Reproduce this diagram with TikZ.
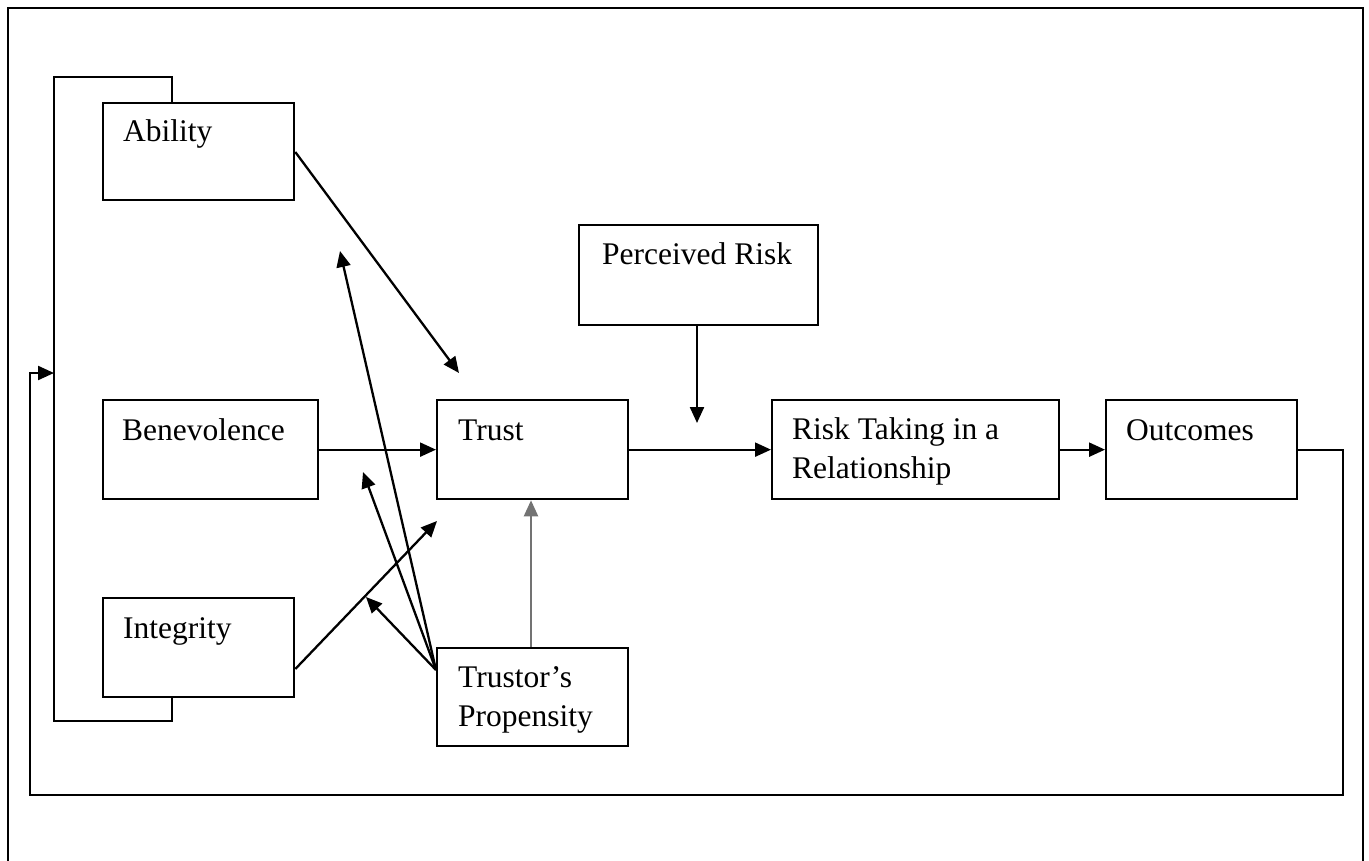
\documentclass[tikz,border=0pt]{standalone}
\usepackage{fontspec}
\setmainfont{Liberation Serif}
\usetikzlibrary{arrows.meta}

\tikzset{
  box/.style={draw, line width=2.3pt, rectangle, inner sep=0pt, anchor=north west},
  lbl/.style={anchor=base west, inner sep=0pt, align=left,
              font=\fontsize{31.5}{39}\selectfont},
  conn/.style={line width=2.3pt, -{Triangle[length=16pt,width=14pt]}},
  plain/.style={line width=2.3pt},
}

\begin{document}
\begin{tikzpicture}[x=1pt, y=-1pt]
  \useasboundingbox (0,0) rectangle (1369,861);
  \clip (0,0) rectangle (1369,861);

  % page frame, running off the lower edge
  \draw[plain] (8,875) -- (8,8) -- (1363,8) -- (1363,875);

  % boxes
  \node[box, minimum width=191pt, minimum height=97pt] (ability) at (102,102) {};
  \node[box, minimum width=215pt, minimum height=99pt] (benev)   at (102,399) {};
  \node[box, minimum width=191pt, minimum height=99pt] (integ)   at (102,597) {};
  \node[box, minimum width=191pt, minimum height=99pt] (trust)   at (436,399) {};
  \node[box, minimum width=191pt, minimum height=98pt] (prop)    at (436,647) {};
  \node[box, minimum width=239pt, minimum height=100pt] (prisk)  at (578,224) {};
  \node[box, minimum width=287pt, minimum height=99pt] (rtake)   at (771,399) {};
  \node[box, minimum width=191pt, minimum height=99pt] (outc)    at (1105,399) {};

  % box texts (two-line texts are placed by the baseline of their last line)
  \node[lbl] at ([shift={(21,40)}]ability.north west) {Ability};
  \node[lbl] at ([shift={(20,41)}]benev.north west) {Benevolence};
  \node[lbl] at ([shift={(21,41)}]integ.north west) {Integrity};
  \node[lbl] at ([shift={(22,41)}]trust.north west) {Trust};
  \node[lbl] at ([shift={(22,79)}]prop.north west) {Trustor’s\\Propensity};
  \node[lbl] at ([shift={(24,41)}]prisk.north west) {Perceived Risk};
  \node[lbl] at ([shift={(21,79)}]rtake.north west) {Risk Taking in a\\Relationship};
  \node[lbl] at ([shift={(21,41)}]outc.north west) {Outcomes};

  % bracket joining the three trustworthiness factors
  \coordinate (brtop) at (172,102);
  \coordinate (brbot) at (172,696);
  \draw[plain] (brtop) -- (172,77) -- (54,77) -- (54,721) -- (172,721) -- (brbot);

  % free ends of the propensity and moderator arrows
  \coordinate (pOrig) at (436,670);
  \coordinate (tAbil) at (459,373);
  \coordinate (tInte) at (437,521);
  \coordinate (tLong) at (340,251);
  \coordinate (tMid)  at (363,472);
  \coordinate (tLow)  at (366,597);
  \coordinate (tRisk) at (697,423);
  \coordinate (brin)  at (54,373);

  % main arrows
  \draw[conn] (ability.north east |- 0,152) -- (tAbil);
  \draw[conn] (benev.east) -- (trust.west);
  \draw[conn] (integ.north east |- 0,669) -- (tInte);
  \draw[conn] (pOrig) -- (tLong);
  \draw[conn] (pOrig) -- (tMid);
  \draw[conn] (pOrig) -- (tLow);
  \draw[conn, draw=black!55] (prop.north -| 531,0) -- (trust.south -| 531,0);
  \draw[conn] (prisk.south -| 697,0) -- (tRisk);
  \draw[conn] (trust.east) -- (rtake.west);
  \draw[conn] (rtake.east) -- (outc.west);

  % feedback loop from outcomes back to the factors
  \draw[conn] (outc.east) -- (outc.east -| 1343,0) -- (1343,795) -- (30,795)
    -- (30,373) -- (brin);
\end{tikzpicture}
\end{document}
